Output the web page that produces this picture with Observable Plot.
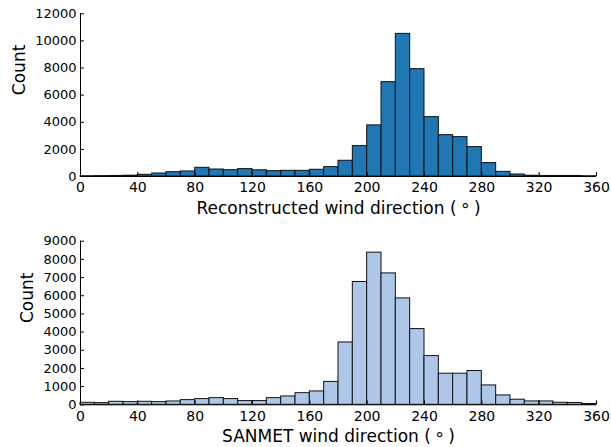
<!DOCTYPE html>
<html>
<head>
<meta charset="utf-8">
<script src="https://cdn.jsdelivr.net/npm/d3@7"></script>
<script src="https://cdn.jsdelivr.net/npm/@observablehq/plot@0.6"></script>
<style>
  html, body { margin: 0; padding: 0; background: #fff; }
  #charts { width: 611px; }
  #charts svg { display: block; }
</style>
</head>
<body>
<div id="charts"></div>
<script>
// 10-degree direction bins, 0–360
const binStart = [0, 10, 20, 30, 40, 50, 60, 70, 80, 90, 100, 110, 120, 130, 140, 150, 160, 170,
                  180, 190, 200, 210, 220, 230, 240, 250, 260, 270, 280, 290, 300, 310, 320, 330, 340, 350];
const binWidth = 10;

// Counts per bin
const reconstructedCounts = [20, 30, 40, 60, 125, 220, 320, 370, 640, 515, 467, 545, 460, 395, 418, 418, 495, 690,
                             1160, 2245, 3770, 6960, 10520, 7915, 4380, 3048, 2905, 2170, 990, 345, 148, 55, 40, 40, 40, 20];
const sanmetCounts = [110, 92, 165, 148, 165, 148, 183, 258, 315, 367, 315, 205, 205, 367, 460, 640, 735, 1260,
                      3430, 6755, 8370, 7228, 5855, 4165, 2680, 1710, 1710, 1860, 1065, 515, 280, 185, 185, 112, 100, 45];

const xTicks = [0, 40, 80, 120, 160, 200, 240, 280, 320, 360];
const yTicksTop = [0, 2000, 4000, 6000, 8000, 10000, 12000];
const yTicksBottom = [0, 1000, 2000, 3000, 4000, 5000, 6000, 7000, 8000, 9000];

const font = "'DejaVu Sans', sans-serif";
const RING = "\u2218";

function histogram({counts, fill, yMax, yTicks, xLabel, height, marginTop, marginBottom, countDx, labelDy}) {
  const bins = binStart.map((x0, i) => ({x0, x1: x0 + binWidth, count: counts[i]}));
  const svg = Plot.plot({
    width: 611,
    height,
    marginLeft: 80,
    marginRight: 15,
    marginTop,
    marginBottom,
    style: {fontFamily: font, background: "white", overflow: "visible"},
    x: {domain: [0, 360], label: null},
    y: {domain: [0, yMax], label: null},
    marks: [
      Plot.rectY(bins, {x1: "x0", x2: "x1", y: "count", fill, stroke: "#111", strokeWidth: 1, inset: 0}),
      // spines
      Plot.ruleX([0], {stroke: "black", strokeWidth: 1}),
      Plot.ruleY([0], {stroke: "black", strokeWidth: 1}),
      // inward tick marks
      Plot.axisY(yTicks, {tickSize: 4, dx: 4, tickFormat: () => "", label: null, stroke: "black"}),
      Plot.axisX(xTicks, {tickSize: 4, dy: -4, tickFormat: () => "", label: null, stroke: "black"}),
      // tick labels
      Plot.axisY(yTicks, {tickSize: 0, tickPadding: 4, tickFormat: d => String(d), label: null,
                          fontSize: 13, fill: "black"}),
      Plot.axisX(xTicks, {tickSize: 0, tickPadding: 6, tickFormat: d => String(d), label: null,
                          fontSize: 14, fill: "black"}),
      // axis titles
      Plot.text([xLabel], {frameAnchor: "bottom", dy: labelDy, fontSize: 17, fill: "black"}),
      Plot.text(["Count"], {frameAnchor: "left", dx: countDx, rotate: -90, fontSize: 17, fill: "black"})
    ]
  });
  // drop the empty labels left by the tick-only axes
  svg.querySelectorAll("text").forEach(t => { if (t.textContent === "") t.remove(); });
  // raise the degree ring slightly, as a superscript-like glyph
  svg.querySelectorAll("text").forEach(t => {
    const s = t.textContent;
    const i = s.indexOf(RING);
    if (i < 0) return;
    t.textContent = "";
    const ns = "http://www.w3.org/2000/svg";
    const a = document.createElementNS(ns, "tspan");
    a.textContent = s.slice(0, i);
    const b = document.createElementNS(ns, "tspan");
    b.setAttribute("dy", "-0.12em");
    b.textContent = RING;
    const c = document.createElementNS(ns, "tspan");
    c.setAttribute("dy", "0.12em");
    c.textContent = s.slice(i + 1);
    t.append(a, b, c);
  });
  return svg;
}

const root = document.getElementById("charts");
root.append(histogram({
  counts: reconstructedCounts,
  fill: "#1f77b4",
  yMax: 12000,
  yTicks: yTicksTop,
  xLabel: "Reconstructed wind direction (\u2009" + RING + "\u2009)",
  height: 225,
  marginTop: 13.3,
  marginBottom: 49,
  countDx: -60.5,
  labelDy: 37
}));
root.append(histogram({
  counts: sanmetCounts,
  fill: "#aec7e8",
  yMax: 9000,
  yTicks: yTicksBottom,
  xLabel: "SANMET wind direction (\u2009" + RING + "\u2009)",
  height: 222,
  marginTop: 15.7,
  marginBottom: 42.7,
  countDx: -52.7,
  labelDy: 37
}));
</script>
</body>
</html>
